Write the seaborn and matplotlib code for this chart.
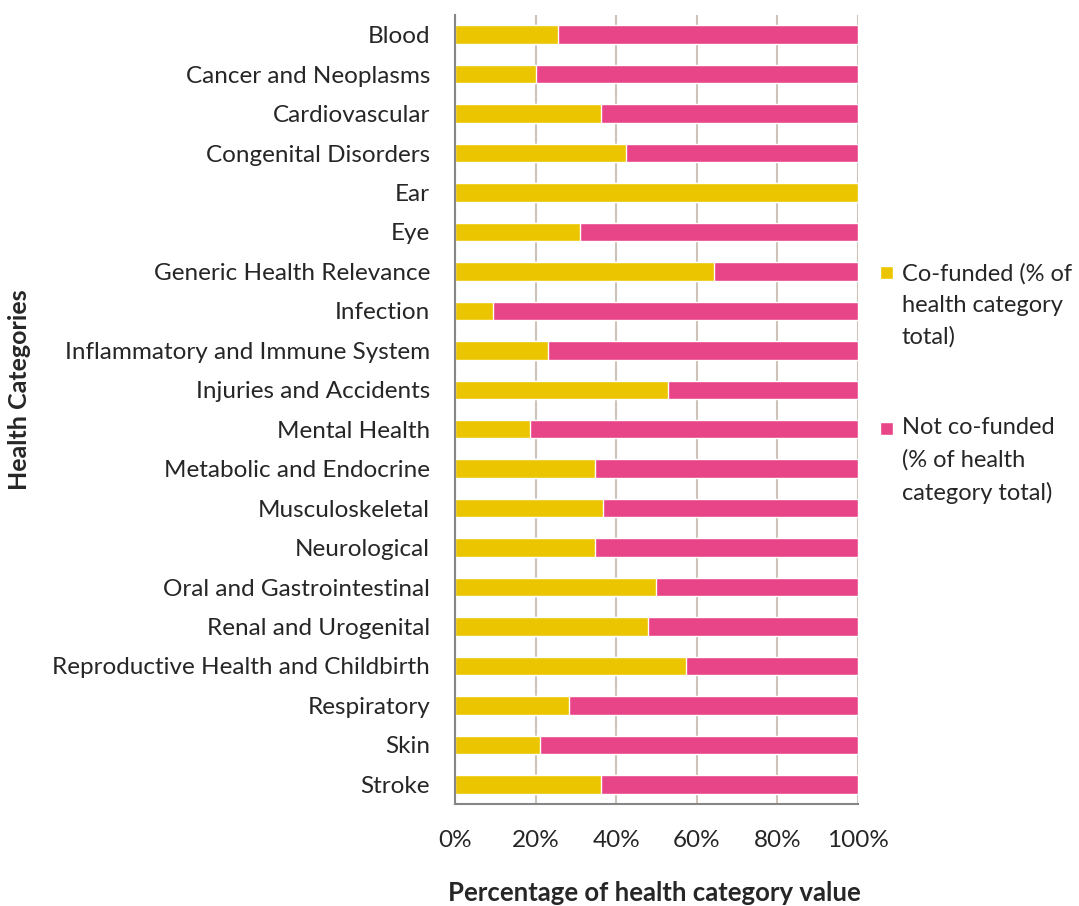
import pandas as pd
import matplotlib.pyplot as plt
import seaborn as sns
from matplotlib.patches import Rectangle
from matplotlib.ticker import FixedLocator

categories = ["Blood", "Cancer and Neoplasms", "Cardiovascular", "Congenital Disorders", "Ear", "Eye",
              "Generic Health Relevance", "Infection", "Inflammatory and Immune System",
              "Injuries and Accidents", "Mental Health", "Metabolic and Endocrine", "Musculoskeletal",
              "Neurological", "Oral and Gastrointestinal", "Renal and Urogenital",
              "Reproductive Health and Childbirth", "Respiratory", "Skin", "Stroke"]
cofunded = [25.6, 20.0, 36.2, 42.4, 100.0, 30.9, 64.2, 9.4, 23.1, 52.9,
            18.7, 34.7, 36.8, 34.8, 49.8, 47.9, 57.2, 28.4, 21.2, 36.3]
not_cofunded = [74.4, 80.0, 63.8, 57.6, 0.0, 69.1, 35.8, 90.6, 76.9, 47.1,
                81.3, 65.3, 63.2, 65.2, 50.2, 52.1, 42.8, 71.6, 78.8, 63.7]
xticks = [0, 20, 40, 60, 80, 100]
xticklabels = ["0%", "20%", "40%", "60%", "80%", "100%"]
legend_labels = ["Co-funded (% of\nhealth category\ntotal)", "Not co-funded\n(% of health\ncategory total)"]

yellow = "#EAC500"
pink = "#E84488"

df = pd.DataFrame({"cat": categories, "co": cofunded, "not": not_cofunded})
df["total"] = df["co"] + df["not"]

sns.set_style("white")
plt.rcParams['font.family'] = ['Lato', 'DejaVu Sans']

W, H = 1079, 906
fig = plt.figure(figsize=(W / 100, H / 100), dpi=100)
ax = fig.add_axes([455 / W, 1 - 804 / H, 403 / W, 789 / H])

sns.barplot(data=df, y="cat", x="total", color=pink, width=0.47, saturation=1, ax=ax, orient="h")
sns.barplot(data=df, y="cat", x="co", color=yellow, width=0.47, saturation=1, ax=ax, orient="h")

ax.set_xlim(0, 100)
ax.set_ylim(19.5, -0.5)
ax.set_xticks(xticks)
ax.set_xticklabels(xticklabels, fontsize=17.5)
ax.tick_params(axis="y", which="major", length=0, labelsize=17.5, pad=18)
ax.yaxis.set_minor_locator(FixedLocator([i - 0.5 for i in range(21)]))
ax.tick_params(axis="y", which="minor", length=6, width=1.5, color="#868686", direction="out")
ax.tick_params(axis="x", length=6, width=1.5, color="#868686", direction="out", pad=13)

ax.xaxis.grid(True, color="#CEC3B9", linewidth=1.5)
ax.set_axisbelow(True)
for s in ["top", "right"]:
    ax.spines[s].set_visible(False)
for s in ["left", "bottom"]:
    ax.spines[s].set_color("#868686")
    ax.spines[s].set_linewidth(1.5)

ax.set_ylabel("")
ax.set_xlabel("")
fig.text(654 / W, 1 - 893 / H, "Percentage of health category value", ha="center", va="center",
         fontsize=18.5, fontweight="bold")
fig.text(20 / W, 1 - 390 / H, "Health Categories", ha="center", va="center", rotation=90,
         fontsize=18, fontweight="bold")

# legend drawn by hand so the swatch sits on the first line of wrapped text
for lab, col, base, last in zip(legend_labels, [yellow, pink], [279, 435], [344, 500]):
    fig.patches.append(Rectangle((880 / W, 1 - base / H), 13 / W, 13 / H, facecolor=col,
                                 transform=fig.transFigure, figure=fig))
    fig.text(902 / W, 1 - last / H, lab, ha="left", va="baseline", fontsize=17,
             linespacing=1.62)

fig.savefig("out.png", dpi=100)
